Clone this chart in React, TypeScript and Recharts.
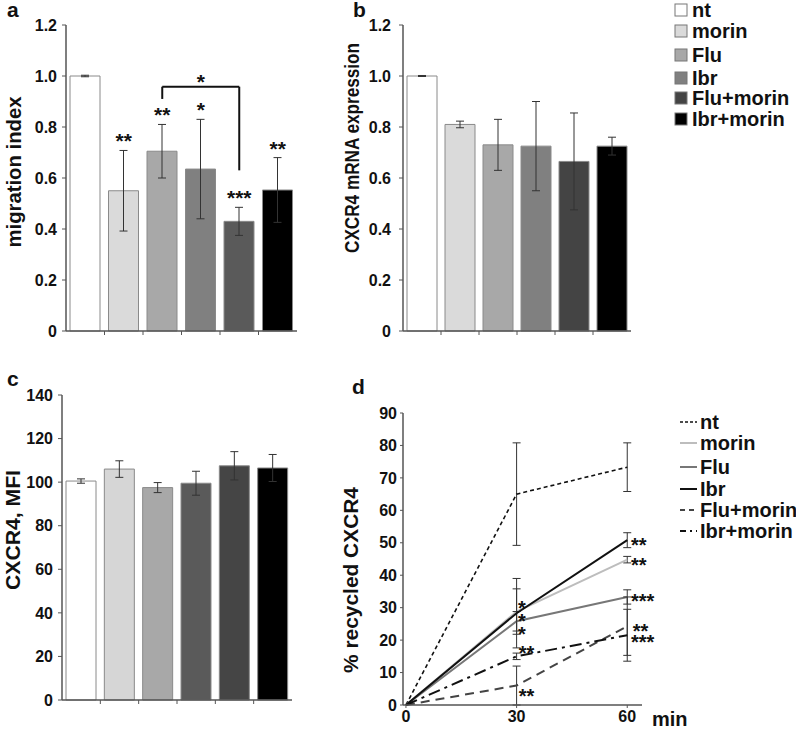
import { BarChart, Bar, Cell, XAxis, YAxis, ErrorBar, ReferenceDot, ReferenceLine, LineChart, Line } from 'recharts';

const FONT = '"Liberation Sans", Arial, sans-serif';

const groups = ['nt', 'morin', 'Flu', 'Ibr', 'Flu+morin', 'Ibr+morin'];

// a: migration index
const migration = [1.0, 0.55, 0.705, 0.635, 0.43, 0.553];
const migrationErr = [0.003, 0.158, 0.105, 0.195, 0.055, 0.127];
const migrationSig = ['', '**', '**', '*', '***', '**'];

// b: CXCR4 mRNA expression
const mrna = [1.0, 0.81, 0.73, 0.725, 0.665, 0.725];
const mrnaErr = [0.002, 0.013, 0.1, 0.175, 0.19, 0.035];

// c: CXCR4 MFI
const mfi = [100.5, 106, 97.5, 99.5, 107.5, 106.5];
const mfiErr = [1, 3.8, 2.3, 5.5, 6.5, 6.2];

// d: % recycled CXCR4
const minutes = [0, 30, 60];
const ntRec = [0, 65, 73.3];
const ntRecErr = [0, 15.8, 7.5];
const morinRec = [0, 28.8, 44.8];
const morinRecErr = [0, 7, 1];
const fluRec = [0, 25.8, 33.3];
const fluRecErr = [0, 3, 2.2];
const ibrRec = [0, 28.3, 50.8];
const ibrRecErr = [0, 10.7, 2.3];
const fluMorinRec = [0, 6, 24.3];
const fluMorinRecErr = [0, 6, 9];
const ibrMorinRec = [0, 15, 21.5];
const ibrMorinRecErr = [0, 1, 8];

const dStars = [
  { x: 30.4, y: 31.4, t: '*' },
  { x: 30.4, y: 27.2, t: '*' },
  { x: 30.4, y: 23.3, t: '*' },
  { x: 30.6, y: 17.4, t: '**' },
  { x: 30.6, y: 4.1, t: '**' },
  { x: 61, y: 50.8, t: '**' },
  { x: 61, y: 44.6, t: '**' },
  { x: 61, y: 33.3, t: '***' },
  { x: 61.5, y: 24.1, t: '**' },
  { x: 61, y: 20.8, t: '***' },
];

const fillsA = ['#ffffff', '#dadada', '#a8a8a8', '#808080', '#5a5a5a', '#000000'];
const fillsB = ['#ffffff', '#dadada', '#a8a8a8', '#808080', '#444444', '#000000'];
const fillsC = ['#ffffff', '#d6d6d6', '#a8a8a8', '#5a5a5a', '#454545', '#000000'];

const lineStyles = [
  { key: 'nt', stroke: '#111', dash: '4 3', legendDash: '3 2', w: 1.6 },
  { key: 'morin', stroke: '#bdbdbd', dash: undefined, legendDash: undefined, w: 2 },
  { key: 'Flu', stroke: '#777', dash: undefined, legendDash: undefined, w: 2 },
  { key: 'Ibr', stroke: '#111', dash: undefined, legendDash: undefined, w: 2 },
  { key: 'Flu+morin', stroke: '#444', dash: '9 6', legendDash: '5 4', w: 2 },
  { key: 'Ibr+morin', stroke: '#111', dash: '12 5 3 5', legendDash: '6 4 2 4', w: 2 },
];

const AX = '#555';
const Y_W = 66;
const RIGHT = 10;

const tickStyle = { fill: '#111', fontSize: 16, fontWeight: 'bold', fontFamily: FONT };

function starShape(text: string, size: number, anchor: 'middle' | 'start') {
  return (p: any) => (
    <text
      x={p.cx}
      y={p.cy + size * 0.57}
      textAnchor={anchor}
      fontSize={size}
      fontWeight="bold"
      fontFamily={FONT}
      fill="#111"
    >
      {text}
    </text>
  );
}

interface BarPanelProps {
  left: number;
  top: number;
  width: number;
  height: number;
  values: number[];
  errors: number[];
  fills: string[];
  domain: [number, number];
  ticks: number[];
  fmt: (v: number) => string;
  tickMargin: number;
  children?: any;
}

function BarPanel({ left, top, width, height, values, errors, fills, domain, ticks, fmt, tickMargin, children }: BarPanelProps) {
  const data = groups.map((g, i) => ({ group: g, value: values[i], err: errors[i] }));
  const band = (width - Y_W - RIGHT) / groups.length;
  return (
    <div style={{ position: 'absolute', left, top }}>
      <BarChart width={width} height={height} data={data} margin={{ top: 25, right: RIGHT, left: 0, bottom: 0 }}>
        <XAxis
          dataKey="group"
          height={19}
          interval={0}
          axisLine={{ stroke: AX, strokeWidth: 1.5 }}
          tickLine={false}
          tickSize={0}
          tickMargin={0}
          tick={(p: any) =>
            p.index < groups.length - 1 ? (
              <line x1={p.x + band / 2} x2={p.x + band / 2} y1={p.y} y2={p.y + 4} stroke={AX} strokeWidth={1} />
            ) : (
              <g />
            )
          }
        />
        <YAxis
          width={Y_W}
          domain={domain}
          ticks={ticks}
          interval={0}
          tickFormatter={fmt}
          axisLine={{ stroke: AX, strokeWidth: 1.5 }}
          tickLine={{ stroke: AX }}
          tickSize={4}
          tickMargin={tickMargin}
          tick={tickStyle}
        />
        <Bar dataKey="value" barSize={30} isAnimationActive={false}>
          {data.map((d, i) => (
            <Cell key={d.group} fill={fills[i]} stroke="#8a8a8a" strokeWidth={1} />
          ))}
          <ErrorBar dataKey="err" width={4} stroke="#333" strokeWidth={1} />
        </Bar>
        {children}
      </BarChart>
    </div>
  );
}

const fmtDec = (v: number) => (v === 0 ? '0' : v.toFixed(1));
const fmtInt = (v: number) => String(v);

function AxisTitle({ x, y, text, len }: { x: number; y: number; text: string; len: number }) {
  return (
    <text
      transform={`translate(${x},${y}) rotate(-90)`}
      textAnchor="middle"
      dominantBaseline="central"
      fontSize={20}
      textLength={len}
      lengthAdjust="spacingAndGlyphs"
    >
      {text}
    </text>
  );
}

export default function App() {
  const recData = minutes.map((m, i) => ({
    min: m,
    nt: ntRec[i],
    ntErr: ntRecErr[i],
    morin: morinRec[i],
    morinErr: morinRecErr[i],
    Flu: fluRec[i],
    FluErr: fluRecErr[i],
    Ibr: ibrRec[i],
    IbrErr: ibrRecErr[i],
    'Flu+morin': fluMorinRec[i],
    'Flu+morinErr': fluMorinRecErr[i],
    'Ibr+morin': ibrMorinRec[i],
    'Ibr+morinErr': ibrMorinRecErr[i],
  }));

  const legendBox = ['#ffffff', '#dadada', '#a8a8a8', '#808080', '#444444', '#000000'];
  const legendRowsAB = [10, 31, 55, 78, 98, 119];
  const legendRowsD = [422, 443, 467, 489, 510, 531];

  return (
    <div style={{ position: 'absolute', left: 0, top: 0, width: 796, height: 730, background: '#fff', overflow: 'hidden' }}>
      {/* a */}
      <BarPanel
        left={0}
        top={0}
        width={307}
        height={350}
        values={migration}
        errors={migrationErr}
        fills={fillsA}
        domain={[0, 1.2]}
        ticks={[0, 0.2, 0.4, 0.6, 0.8, 1.0, 1.2]}
        fmt={fmtDec}
        tickMargin={5}
      >
        {groups.map((g, i) =>
          migrationSig[i] ? (
            <ReferenceDot
              key={g}
              x={g}
              y={migration[i] + migrationErr[i] + 0.055}
              r={0}
              shape={starShape(migrationSig[i], 21, 'middle')}
            />
          ) : null
        )}
        <ReferenceLine segment={[{ x: 'Flu', y: 0.91 }, { x: 'Flu', y: 0.958 }]} stroke="#111" strokeWidth={2} />
        <ReferenceLine segment={[{ x: 'Flu', y: 0.958 }, { x: 'Flu+morin', y: 0.958 }]} stroke="#111" strokeWidth={2} />
        <ReferenceLine segment={[{ x: 'Flu+morin', y: 0.958 }, { x: 'Flu+morin', y: 0.63 }]} stroke="#111" strokeWidth={2} />
        <ReferenceDot x="Ibr" y={0.997} r={0} shape={starShape('*', 21, 'middle')} />
      </BarPanel>

      {/* b */}
      <BarPanel
        left={337}
        top={0}
        width={304}
        height={350}
        values={mrna}
        errors={mrnaErr}
        fills={fillsB}
        domain={[0, 1.2]}
        ticks={[0, 0.2, 0.4, 0.6, 0.8, 1.0, 1.2]}
        fmt={fmtDec}
        tickMargin={8}
      />

      {/* c */}
      <BarPanel
        left={-4}
        top={370}
        width={306}
        height={349}
        values={mfi}
        errors={mfiErr}
        fills={fillsC}
        domain={[0, 140]}
        ticks={[0, 20, 40, 60, 80, 100, 120, 140]}
        fmt={fmtInt}
        tickMargin={5}
      />

      {/* d */}
      <div style={{ position: 'absolute', left: 337, top: 388 }}>
        <LineChart width={355} height={347} data={recData} margin={{ top: 25, right: 50, left: 0, bottom: 0 }}>
          <XAxis
            dataKey="min"
            type="number"
            domain={[-0.8, 64]}
            ticks={[0, 30, 60]}
            interval={0}
            height={30}
            axisLine={{ stroke: AX, strokeWidth: 1.5 }}
            tickLine={{ stroke: AX }}
            tickSize={3}
            tickMargin={3}
            tick={tickStyle}
            allowDataOverflow
          />
          <YAxis
            width={Y_W}
            domain={[0, 90]}
            ticks={[0, 10, 20, 30, 40, 50, 60, 70, 80, 90]}
            interval={0}
            axisLine={{ stroke: AX, strokeWidth: 1.5 }}
            tickLine={{ stroke: AX }}
            tickSize={3}
            tickMargin={3}
            tick={tickStyle}
          />
          {lineStyles.map((s) => (
            <Line
              key={s.key}
              dataKey={s.key}
              stroke={s.stroke}
              strokeWidth={s.w}
              strokeDasharray={s.dash}
              dot={false}
              isAnimationActive={false}
            >
              <ErrorBar dataKey={s.key + 'Err'} direction="y" width={4} stroke="#333" strokeWidth={1} />
            </Line>
          ))}
          {dStars.map((s, i) => (
            <ReferenceDot key={i} x={s.x} y={s.y} r={0} shape={starShape(s.t, 20, 'start')} />
          ))}
        </LineChart>
      </div>

      <svg width={796} height={730} style={{ position: 'absolute', left: 0, top: 0, pointerEvents: 'none' }}>
        <g fontFamily={FONT} fontWeight="bold" fill="#111">
          <text x={7} y={17} fontSize={21}>a</text>
          <text x={353} y={17} fontSize={21}>b</text>
          <text x={7} y={386} fontSize={21}>c</text>
          <text x={352} y={394} fontSize={21}>d</text>

          <AxisTitle x={14} y={172} text="migration index" len={151} />
          <AxisTitle x={352} y={148} text="CXCR4 mRNA expression" len={210} />
          <AxisTitle x={13} y={530} text="CXCR4, MFI" len={120} />
          <AxisTitle x={351} y={580} text="% recycled CXCR4" len={186} />

          <text x={652} y={726} fontSize={20}>min</text>

          {groups.map((g, i) => (
            <g key={g}>
              <rect x={675} y={legendRowsAB[i] - 6} width={12} height={12} fill={legendBox[i]} stroke="#777" strokeWidth={1} />
              <text x={692} y={legendRowsAB[i]} dominantBaseline="central" fontSize={20}>
                {g}
              </text>
            </g>
          ))}

          {lineStyles.map((s, i) => (
            <g key={s.key}>
              <line
                x1={680}
                x2={697}
                y1={legendRowsD[i]}
                y2={legendRowsD[i]}
                stroke={s.stroke}
                strokeWidth={s.w}
                strokeDasharray={s.legendDash}
              />
              <text x={700} y={legendRowsD[i]} dominantBaseline="central" fontSize={20}>
                {s.key}
              </text>
            </g>
          ))}
        </g>
      </svg>
    </div>
  );
}
